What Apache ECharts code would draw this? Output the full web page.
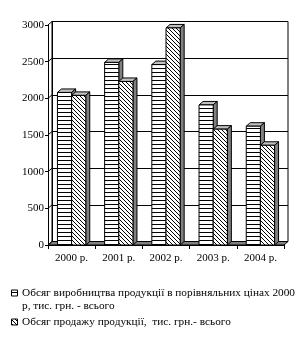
<!DOCTYPE html>
<html><head><meta charset="utf-8">
<script src="https://cdn.jsdelivr.net/npm/echarts@6/dist/echarts.min.js"></script>
<style>html,body{margin:0;padding:0;background:#fff}#c{width:307px;height:357px}</style>
</head><body><div id="c"></div>
<script>
const categories = ['2000 р.', '2001 р.', '2002 р.', '2003 р.', '2004 р.'];
const production = [2080, 2490, 2460, 1910, 1620];
const sales = [2040, 2230, 2960, 1580, 1360];
const yMin = 0, yMax = 3000, yStep = 500;
const seriesNames = [
  'Обсяг виробництва продукції в порівняльних цінах 2000 р, тис. грн. - всього',
  'Обсяг продажу продукції,  тис. грн.- всього'
];
const legendLines = [
  ['Обсяг виробництва продукції в порівняльних цінах 2000', 'р, тис. грн. - всього'],
  ['Обсяг продажу продукції,  тис. грн.- всього']
];

const FONT = '"Liberation Serif", "DejaVu Serif", serif';
const DX = 4, DY = 3.5;

function makePattern(kind) {
  const c = document.createElement('canvas'); c.width = 4; c.height = 4;
  const g = c.getContext('2d');
  g.fillStyle = '#fff'; g.fillRect(0, 0, 4, 4); g.fillStyle = '#000';
  if (kind === 'h') { g.fillRect(0, 0, 4, 1); }
  else { for (let i = 0; i < 4; i++) g.fillRect(i, i, 1, 1); }
  return { image: c, repeat: 'repeat' };
}
const patterns = [makePattern('h'), makePattern('d')];

function renderBar(idx) {
  return function (params, api) {
    const ci = api.value(0), v = api.value(1);
    const band = api.size([1, 0])[0];
    const w = band * 0.3;
    const base = api.coord([ci, 0]);
    const top = api.coord([ci, v]);
    const x = base[0] - w + idx * w;
    const yT = top[1], yB = base[1];
    return {
      type: 'group',
      children: [
        { type: 'polygon', shape: { points: [[x, yT], [x + DX, yT - DY], [x + w + DX, yT - DY], [x + w, yT]] },
          style: { fill: '#c0c0c0', stroke: '#000', lineWidth: 1 } },
        { type: 'polygon', shape: { points: [[x + w, yT], [x + w + DX, yT - DY], [x + w + DX, yB - DY], [x + w, yB]] },
          style: { fill: '#808080', stroke: '#000', lineWidth: 1 } },
        { type: 'rect', shape: { x: x, y: yT, width: w, height: yB - yT },
          style: { fill: patterns[idx], stroke: '#000', lineWidth: 1 } }
      ]
    };
  };
}

const chart = echarts.init(document.getElementById('c'), null, { renderer: 'canvas' });
const option = {
  animation: false,
  backgroundColor: '#fff',
  grid: [
    { left: 48, right: 23, top: 25, bottom: 112 },
    { left: 52, right: 19, top: 21.5, bottom: 115.5, show: true, borderColor: '#000', borderWidth: 1 }
  ],
  xAxis: [
    { type: 'category', gridIndex: 0, data: categories,
      axisLine: { lineStyle: { color: '#000', width: 1 } },
      axisTick: { show: true, length: 4, lineStyle: { color: '#000' } },
      axisLabel: { color: '#000', fontFamily: FONT, fontSize: 11, margin: 8, interval: 0 } },
    { type: 'category', gridIndex: 1, data: categories, show: false }
  ],
  yAxis: [
    { type: 'value', gridIndex: 0, min: yMin, max: yMax, interval: yStep,
      axisLine: { show: true, lineStyle: { color: '#000', width: 1 } },
      axisTick: { show: true, length: 3, lineStyle: { color: '#000' } },
      splitLine: { show: false },
      axisLabel: { color: '#000', fontFamily: FONT, fontSize: 11, margin: 4, formatter: v => String(v) } },
    { type: 'value', gridIndex: 1, min: yMin, max: yMax, interval: yStep,
      axisLine: { show: true, lineStyle: { color: '#000', width: 1 } },
      axisTick: { show: false }, axisLabel: { show: false },
      splitLine: { show: true, lineStyle: { color: '#000', width: 1 } } }
  ],
  series: [
    { type: 'custom', name: seriesNames[0], xAxisIndex: 0, yAxisIndex: 0, z: 3,
      renderItem: renderBar(0), data: production.map((v, i) => [i, v]) },
    { type: 'custom', name: seriesNames[1], xAxisIndex: 0, yAxisIndex: 0, z: 4,
      renderItem: renderBar(1), data: sales.map((v, i) => [i, v]) }
  ]
};
chart.setOption(option);

// floor, side wall and legend
const gr0 = chart.getModel().getComponent('grid', 0).coordinateSystem.getRect();
const gr1 = chart.getModel().getComponent('grid', 1).coordinateSystem.getRect();
const graphics = [];
const yF = gr0.y + gr0.height, yBk = gr1.y + gr1.height;
graphics.push({ type: 'polygon', z: 1,
  shape: { points: [[gr0.x, yF], [gr0.x + gr0.width, yF], [gr1.x + gr1.width, yBk], [gr1.x, yBk]] },
  style: { fill: '#808080', stroke: '#000', lineWidth: 1 } });
for (let v = yMin; v <= yMax; v += yStep) {
  const p = chart.convertToPixel({ yAxisIndex: 0 }, v);
  const q = chart.convertToPixel({ yAxisIndex: 1 }, v);
  graphics.push({ type: 'line', z: 1, shape: { x1: gr0.x, y1: p, x2: gr1.x, y2: q },
    style: { stroke: '#000', lineWidth: 1 } });
}
const legendY = [293, 322];
const lineH = 13;
legendLines.forEach((lines, i) => {
  graphics.push({ type: 'rect', z: 5, shape: { x: 11.5, y: legendY[i] - 3, width: 6, height: 6 },
    style: { fill: patterns[i], stroke: '#000', lineWidth: 1 } });
  lines.forEach((t, j) => {
    graphics.push({ type: 'text', z: 5, x: 22, y: legendY[i] + j * lineH,
      style: { text: t, font: '11.3px ' + FONT, fill: '#000', verticalAlign: 'middle' } });
  });
});
chart.setOption({ graphic: graphics });
</script></body></html>
